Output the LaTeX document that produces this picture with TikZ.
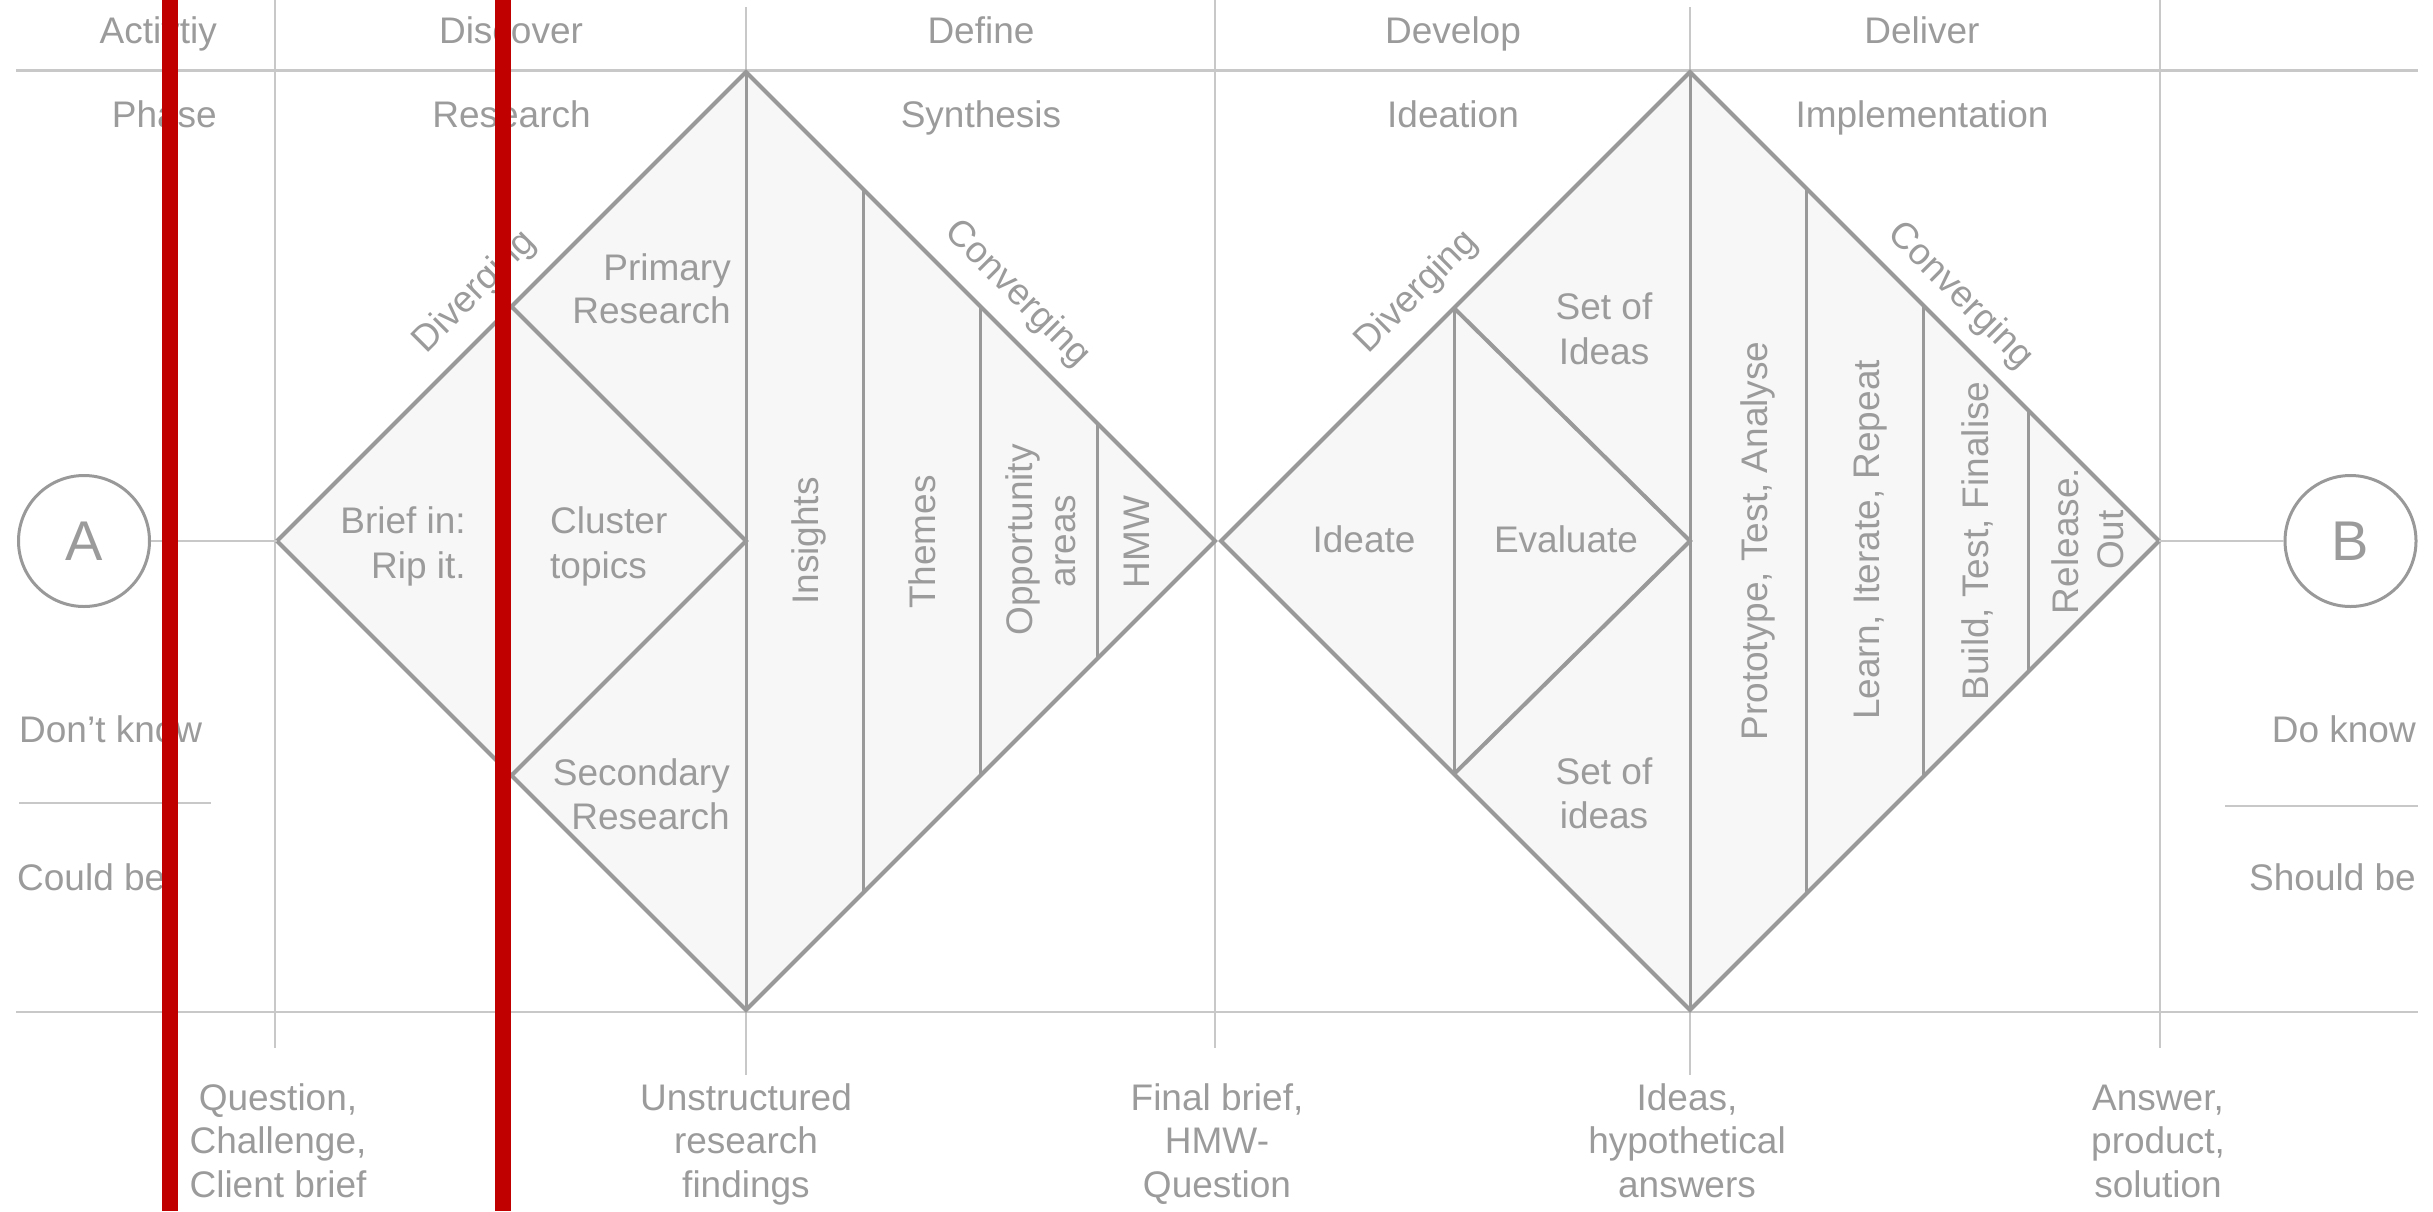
\documentclass[tikz,border=0pt]{standalone}
\usepackage{fontspec}
\setmainfont{Liberation Sans}
\definecolor{gridgray}{RGB}{200,200,200}
\definecolor{linegray}{RGB}{153,153,153}
\definecolor{textgray}{RGB}{155,155,155}
\definecolor{fillgray}{RGB}{247,247,247}
\definecolor{barred}{RGB}{192,0,0}
\begin{document}
\begin{tikzpicture}[x=1pt,y=-1pt,
  gridline/.style={draw=gridgray,line width=2.2pt},
  dedge/.style={draw=linegray,line width=4pt,line join=miter},
  dinner/.style={draw=linegray,line width=3pt},
  txt/.style={text=textgray,inner sep=0pt,font=\fontsize{37}{44}\selectfont},
  rtxt/.style={txt,rotate=90,anchor=base},
  termcircle/.style={circle,draw=linegray,line width=3pt,minimum size=131pt,inner sep=0pt,text=textgray,font=\fontsize{56}{60}\selectfont},
  barfill/.style={fill=barred}
]
\useasboundingbox (0,0) rectangle (2433,1211);

% key points
\coordinate (L1) at (277,541);
\coordinate (T1) at (746,72);
\coordinate (R1) at (1215,541);
\coordinate (B1) at (746,1010);
\coordinate (C1) at (746,541);
\coordinate (S1t) at (511.5,306.5);
\coordinate (S1b) at (511.5,775.5);
\coordinate (L2) at (1221,541);
\coordinate (T2) at (1690,72);
\coordinate (R2) at (2159,541);
\coordinate (B2) at (1690,1010);
\coordinate (C2) at (1690,541);
\coordinate (S2t) at (1454,308);
\coordinate (S2b) at (1454,774);

% grid
\draw[gridline] (16,70.5) -- (2418,70.5);
\draw[gridline] (16,1012) -- (2418,1012);
\draw[gridline] (275,0) -- (275,1048);
\draw[gridline] (746,7) -- (746,1075);
\draw[gridline] (1215,0) -- (1215,1048);
\draw[gridline] (1690,7) -- (1690,1075);
\draw[gridline] (2160,0) -- (2160,1048);
\draw[gridline] (19,803) -- (211,803);
\draw[gridline] (2225,806) -- (2418,806);

% diamond fills
\fill[fillgray] (L1) -- (T1) -- (R1) -- (B1) -- cycle;
\fill[fillgray] (L2) -- (T2) -- (R2) -- (B2) -- cycle;

% diamond 1 inner lines
\draw[dinner] (T1) -- (B1);
\draw[dinner] (863,189) -- (863,893);
\draw[dinner] (980,306) -- (980,776);
\draw[dinner] (1097,423) -- (1097,659);
\draw[dedge] (S1t) -- (C1) -- (S1b);
\draw[dedge] (L1) -- (T1) -- (R1) -- (B1) -- cycle;

% diamond 2 inner lines
\draw[dinner] (T2) -- (B2);
\draw[dinner] (S2t) -- (S2b);
\draw[dinner] (1806,188) -- (1806,894);
\draw[dinner] (1923,305) -- (1923,777);
\draw[dinner] (2028,410) -- (2028,672);
\draw[dedge] (S2t) -- (C2) -- (S2b);
\draw[dedge] (L2) -- (T2) -- (R2) -- (B2) -- cycle;

% end points
\node[termcircle] (A) at (84,541) {A};
\node[termcircle] (B) at (2350.5,541) {B};
\draw[gridline] (A) -- (L1);
\draw[gridline] (R2) -- (B);

% header rows
\node[txt,anchor=base east] (act) at (217,43) {Activtiy};
\node[txt,anchor=base] (disc) at (511,43) {Discover};
\node[txt,anchor=base] (def) at (981,43) {Define};
\node[txt,anchor=base] (dev) at (1453,43) {Develop};
\node[txt,anchor=base] (del) at (1922,43) {Deliver};
\node[txt,anchor=base east] (phase) at (217,127) {Phase};
\node[txt,anchor=base] (res) at (511.5,127) {Research};
\node[txt,anchor=base] (syn) at (981,127) {Synthesis};
\node[txt,anchor=base] (ideation) at (1453,127) {Ideation};
\node[txt,anchor=base] (impl) at (1922,127) {Implementation};

% diamond 1 texts
\node[txt,anchor=base east] (brief1) at (466,533) {Brief in:};
\node[txt,anchor=base east] (brief2) at (466,578) {Rip it.};
\node[txt,anchor=base west] (clus1) at (550,533) {Cluster};
\node[txt,anchor=base west] (clus2) at (550,578) {topics};
\node[txt,anchor=base east] (prim1) at (731,280) {Primary};
\node[txt,anchor=base east] (prim2) at (731,323) {Research};
\node[txt,anchor=base east] (sec1) at (730,785) {Secondary};
\node[txt,anchor=base east] (sec2) at (730,829) {Research};
\node[rtxt] (ins) at (818,541) {Insights};
\node[rtxt] (them) at (935,542) {Themes};
\node[rtxt] (opp1) at (1032,540) {Opportunity};
\node[rtxt] (opp2) at (1075.5,541) {areas};
\node[rtxt] (hmw) at (1149.5,542) {HMW};

% diamond 2 texts
\node[txt,anchor=base] (ideate) at (1364,552) {Ideate};
\node[txt,anchor=base] (eval) at (1566,552) {Evaluate};
\node[txt,anchor=base] (setu1) at (1604,319) {Set of};
\node[txt,anchor=base] (setu2) at (1604,364) {Ideas};
\node[txt,anchor=base] (setl1) at (1604,784) {Set of};
\node[txt,anchor=base] (setl2) at (1604,828) {ideas};
\node[rtxt] (proto) at (1767,541) {Prototype, Test, Analyse};
\node[rtxt] (learn) at (1879,540) {Learn, Iterate, Repeat};
\node[rtxt] (build) at (1988,541) {Build, Test, Finalise};
\node[rtxt] (rel1) at (2078,541) {Release.};
\node[rtxt] (rel2) at (2123,540) {Out};

% edge labels
\node[txt,rotate=45] (div1) at (475,292) {Diverging};
\node[txt,rotate=-45] (conv1) at (1017,294) {Converging};
\node[txt,rotate=45] (div2) at (1417,292) {Diverging};
\node[txt,rotate=-45] (conv2) at (1960,296) {Converging};

% side labels
\node[txt,anchor=base west] (dk) at (19,742) {Don’t know};
\node[txt,anchor=base west] (cb) at (17,890) {Could be};
\node[txt,anchor=base east] (dok) at (2416,742) {Do know};
\node[txt,anchor=base east] (sb) at (2416,890) {Should be};

% bottom labels
\node[txt,anchor=base] (q1) at (278,1110) {Question,};
\node[txt,anchor=base] (q2) at (278,1153) {Challenge,};
\node[txt,anchor=base] (q3) at (278,1197) {Client brief};
\node[txt,anchor=base] (u1) at (746,1110) {Unstructured};
\node[txt,anchor=base] (u2) at (746,1153) {research};
\node[txt,anchor=base] (u3) at (746,1197) {findings};
\node[txt,anchor=base] (f1) at (1217,1110) {Final brief,};
\node[txt,anchor=base] (f2) at (1217,1153) {HMW-};
\node[txt,anchor=base] (f3) at (1217,1197) {Question};
\node[txt,anchor=base] (i1) at (1687,1110) {Ideas,};
\node[txt,anchor=base] (i2) at (1687,1153) {hypothetical};
\node[txt,anchor=base] (i3) at (1687,1197) {answers};
\node[txt,anchor=base] (a1) at (2158,1110) {Answer,};
\node[txt,anchor=base] (a2) at (2158,1153) {product,};
\node[txt,anchor=base] (a3) at (2158,1197) {solution};

% red bars
\fill[barfill] (162,0) rectangle (178,1211);
\fill[barfill] (495,0) rectangle (511,1211);
\end{tikzpicture}
\end{document}
